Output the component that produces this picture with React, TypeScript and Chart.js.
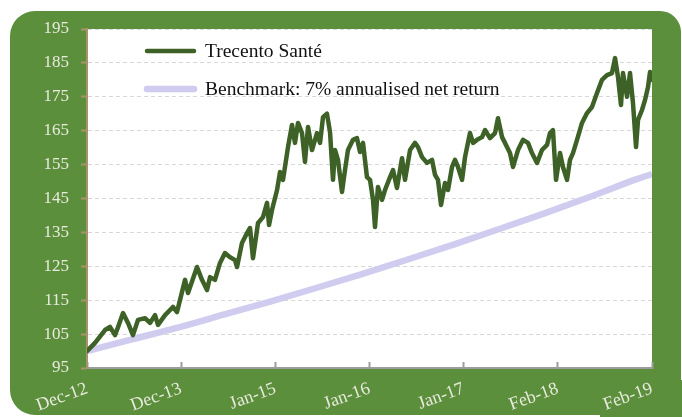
import React, { useEffect, useRef } from "react";
import { Chart, registerables } from "chart.js";

Chart.register(...registerables);

// months since Dec-12
const trecentoMonths = [
  0, 1.05, 2.36, 3.01, 3.67, 4.06, 4.72, 5.37, 6.02, 6.68,
  7.6, 8.25, 8.91, 9.3, 10.22, 11.26, 11.79, 12.84, 13.23, 14.41,
  15.06, 15.72, 16.11, 16.76, 17.42, 18.07, 18.73, 19.38, 19.65, 20.3,
  20.96, 21.35, 21.74, 22.4, 23.05, 23.58, 23.84, 24.23, 24.89, 25.28,
  25.67, 26.33, 26.85, 27.24, 27.64, 28.16, 28.55, 28.95, 29.47, 30.12,
  30.52, 30.91, 31.43, 31.83, 32.22, 32.48, 32.87, 33.4, 33.79, 34.18,
  34.84, 35.36, 35.76, 36.15, 36.67, 37.07, 37.46, 37.72, 38.11, 38.64,
  39.03, 39.69, 40.08, 40.6, 41.26, 41.65, 42.31, 42.96, 43.35, 43.88,
  44.53, 45.19, 45.58, 45.97, 46.37, 46.89, 47.28, 47.81, 48.2, 48.59,
  49.12, 49.51, 50.16, 50.56, 51.08, 51.74, 52.13, 52.78, 53.44, 53.83,
  54.36, 54.75, 55.4, 55.8, 56.45, 57.11, 57.76, 58.28, 58.94, 59.59,
  60.25, 60.64, 61.03, 61.43, 61.95, 62.34, 62.87, 63.26, 63.65, 64.18,
  64.83, 65.49, 66.14, 66.8, 67.45, 68.11, 68.76, 69.16, 69.55, 69.94,
  70.2, 70.73, 71.12, 71.51, 71.91, 72.17, 72.69, 73.08, 73.48, 73.74,
  74,
];

const trecentoValues = [
  100, 102.4, 106.2, 107.1, 104.7, 107, 111.2, 108.3, 104.7, 109.2,
  109.7, 108.3, 110.6, 107.7, 110.6, 113, 111.5, 121, 117.1, 124.8,
  121, 118, 121.8, 121, 126, 128.9, 127.7, 126.8, 124.8, 131.9,
  134.8, 136.3, 127.4, 137.8, 139.5, 143.7, 137.2, 141.6, 147.5, 152.8,
  150.5, 160.2, 166.7, 161.4, 167.3, 164.3, 155.8, 166.1, 159.3, 164.3,
  161.4, 169, 170, 164.6, 150.5, 159.3, 156.4, 146.9, 153.4, 159.3,
  162.3, 162.8, 158.7, 161.4, 151.3, 150.5, 144.6, 136.6, 148.4, 144.6,
  147.5, 151.3, 153.4, 148.1, 156.9, 150.5, 159.3, 161.4, 160.2, 157.2,
  155.5, 156.4, 152, 150.5, 143.1, 149.6, 147.5, 154.3, 156.4, 154.3,
  150.5, 157.2, 164.3, 161.4, 162.3, 163.1, 165.2, 162.8, 164.3, 168.7,
  163.1, 161.4, 158.4, 154.3, 159.3, 162.3, 161.4, 158.4, 155.5, 159.3,
  160.8, 164.3, 165.2, 150.5, 158.4, 154.3, 150.5, 156.4, 158.4, 162.3,
  167.3, 170.2, 172, 176.1, 180, 181.4, 182, 186.4, 180.8, 172.6,
  182, 175, 182, 173.2, 160.2, 168.2, 171.1, 174, 177.9, 182.3,
  180,
];

const benchmarkMonths = [0, 6, 12, 18, 24, 30, 36, 42, 48, 54, 60, 66, 72, 74];
const benchmarkValues = [100, 103.5, 107.0, 110.8, 114.6, 118.6, 122.7, 127.0, 131.4, 136.0, 140.7, 145.6, 150.7, 152.2];

const xTickLabels = ["Dec-12", "Dec-13", "Jan-15", "Jan-16", "Jan-17", "Feb-18", "Feb-19"];
const yTickValues = [95, 105, 115, 125, 135, 145, 155, 165, 175, 185, 195];

const seriesNames = ["Trecento Santé", "Benchmark: 7% annualised net return"];

const X_MAX = 74;
const FONT = "'Liberation Serif', 'Times New Roman', serif";
const LABEL_COLOR = "#e8eadf";
const GREEN_FRAME = "#5c8f3b";

const framePlugin = {
  id: "frame",
  beforeDraw(chart: any) {
    const { ctx, chartArea } = chart;
    ctx.save();
    ctx.fillStyle = "#ffffff";
    ctx.fillRect(0, 0, chart.width, chart.height);
    ctx.fillStyle = GREEN_FRAME;
    ctx.beginPath();
    ctx.moveTo(35, 11);
    ctx.lineTo(660, 11);
    ctx.arcTo(681, 11, 681, 32, 21);
    ctx.lineTo(681, 417);
    ctx.lineTo(682, 417);
    ctx.lineTo(682, 415);
    ctx.lineTo(35, 415);
    ctx.arcTo(10, 415, 10, 390, 25);
    ctx.lineTo(10, 36);
    ctx.arcTo(10, 11, 35, 11, 25);
    ctx.closePath();
    ctx.fill();
    ctx.fillRect(600, 380, 82, 37);
    ctx.fillStyle = "#ffffff";
    ctx.fillRect(chartArea.left, chartArea.top, chartArea.right - chartArea.left, chartArea.bottom - chartArea.top);
    ctx.restore();
  },
};

const insideLegend = {
  id: "insideLegend",
  afterDraw(chart: any) {
    const { ctx, chartArea } = chart;
    ctx.save();
    ctx.font = `19.5px ${FONT}`;
    ctx.textBaseline = "middle";
    ctx.textAlign = "left";
    chart.data.datasets.forEach((ds: any, i: number) => {
      const y = chartArea.top + 22 + i * 38;
      const x0 = chartArea.left + 58;
      ctx.beginPath();
      ctx.lineWidth = ds.borderWidth;
      ctx.strokeStyle = ds.borderColor;
      ctx.lineCap = "round";
      ctx.moveTo(x0 + 2, y);
      ctx.lineTo(x0 + 49, y);
      ctx.stroke();
      ctx.fillStyle = "#111111";
      ctx.fillText(ds.label, x0 + 60, y + 1);
    });
    ctx.restore();
  },
};

export default function App() {
  const canvasRef = useRef<HTMLCanvasElement | null>(null);

  useEffect(() => {
    if (!canvasRef.current) return;
    const chart = new Chart(canvasRef.current, {
      type: "line",
      data: {
        datasets: [
          {
            label: seriesNames[0],
            data: trecentoMonths.map((m, i) => ({ x: m, y: trecentoValues[i] })),
            borderColor: "#3d6126",
            borderWidth: 4.5,
            pointRadius: 0,
            tension: 0,
            borderJoinStyle: "round",
            borderCapStyle: "round",
          },
          {
            label: seriesNames[1],
            data: benchmarkMonths.map((m, i) => ({ x: m, y: benchmarkValues[i] })),
            borderColor: "#d0ccef",
            borderWidth: 6.5,
            pointRadius: 0,
            tension: 0.4,
            cubicInterpolationMode: "monotone",
            borderCapStyle: "butt",
          },
        ],
      },
      options: {
        animation: false,
        responsive: false,
        devicePixelRatio: 1,
        layout: { padding: { left: 0, right: 30, top: 29, bottom: 0 } },
        plugins: {
          legend: { display: false },
          tooltip: { enabled: false },
        },
        scales: {
          x: {
            type: "linear",
            min: 0,
            max: X_MAX,
            afterBuildTicks: (scale: any) => {
              scale.ticks = xTickLabels.map((_, i) => ({ value: (i * X_MAX) / (xTickLabels.length - 1) }));
            },
            afterFit: (scale: any) => {
              scale.height = 49;
            },
            ticks: {
              autoSkip: false,
              minRotation: 20,
              maxRotation: 20,
              padding: 16,
              color: LABEL_COLOR,
              font: { family: FONT, size: 18 },
              callback: (_v: any, i: number) => xTickLabels[i],
            },
            grid: {
              drawOnChartArea: false,
              drawTicks: true,
              tickLength: -6,
              tickColor: "#9c9c9c",
              tickWidth: 2,
            },
            border: { color: "#9c9c9c", width: 2 },
          },
          y: {
            type: "linear",
            min: yTickValues[0],
            max: yTickValues[yTickValues.length - 1],
            afterBuildTicks: (scale: any) => {
              scale.ticks = yTickValues.map((v) => ({ value: v }));
            },
            afterFit: (scale: any) => {
              scale.width = 87;
            },
            ticks: {
              padding: 12,
              color: LABEL_COLOR,
              font: { family: FONT, size: 17 },
              callback: (v: any) => String(v),
            },
            grid: {
              color: "#d8d8d8",
              lineWidth: 1,
              drawTicks: true,
              tickLength: 6,
              tickColor: "#a8946a",
              tickWidth: 2,
            },
            border: { color: "#a8946a", width: 2, dash: [4, 3] },
          },
        },
      },
      plugins: [framePlugin, insideLegend],
    });
    return () => chart.destroy();
  }, []);

  return (
    <div style={{ position: "absolute", left: 0, top: 0, width: 682, height: 417 }}>
      <canvas ref={canvasRef} width={682} height={417} style={{ width: 682, height: 417, display: "block" }} />
    </div>
  );
}
